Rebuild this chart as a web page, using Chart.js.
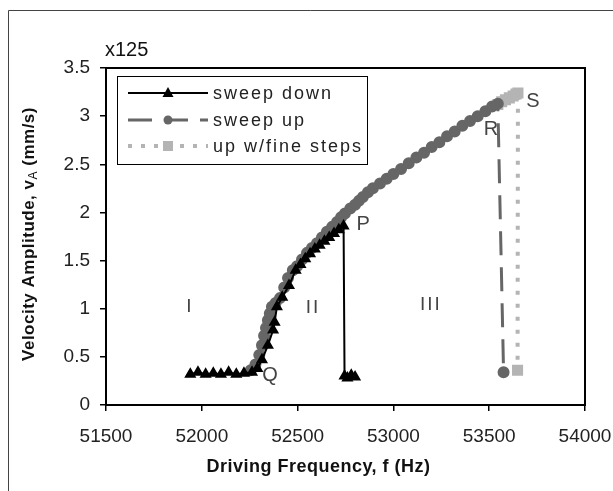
<!DOCTYPE html>
<html>
<head>
<meta charset="utf-8">
<script src="https://cdn.jsdelivr.net/npm/chart.js@4/dist/chart.umd.min.js"></script>
<style>
	html, body { margin: 0; padding: 0; background: #fff; }
	#wrap { width: 613px; height: 491px; position: relative; }
</style>
</head>
<body>
<div id="wrap"><canvas id="resonance"></canvas></div>
<script>
// sweep down (black triangles), taken from high to low frequency
const downFreq = [52800, 52780, 52760, 52745, 52740, 52715, 52690, 52665, 52640, 52615, 52590, 52565, 52540, 52515, 52490,
	52455, 52420, 52392, 52380, 52372, 52345, 52314, 52290, 52262, 52220, 52180, 52140, 52100, 52060, 52020, 51980, 51940];
const downAmp = [0.29, 0.31, 0.28, 0.30, 1.86, 1.82, 1.78, 1.74, 1.70, 1.66, 1.62, 1.57, 1.52, 1.46, 1.40,
	1.24, 1.12, 1.02, 0.86, 0.78, 0.62, 0.47, 0.38, 0.34, 0.33, 0.32, 0.34, 0.32, 0.33, 0.32, 0.34, 0.32];

// sweep up (grey circles)
const upFreq = [52255, 52280, 52300, 52314, 52325, 52335, 52345, 52355, 52366, 52385, 52408, 52430, 52450, 52475, 52497,
	52523, 52549, 52575, 52601, 52627, 52653, 52680, 52706, 52727, 52747, 52775, 52800, 52820, 52841, 52867, 52893,
	52930, 52965, 53000, 53040, 53080, 53120, 53160, 53200, 53240, 53280, 53320, 53360, 53400, 53440, 53480, 53515, 53545, 53575];
const upAmp = [0.36, 0.42, 0.52, 0.62, 0.72, 0.80, 0.88, 0.95, 1.02, 1.06, 1.11, 1.22, 1.32, 1.40, 1.44,
	1.51, 1.58, 1.63, 1.68, 1.74, 1.80, 1.85, 1.90, 1.95, 1.99, 2.04, 2.08, 2.12, 2.16, 2.21, 2.25,
	2.30, 2.35, 2.40, 2.45, 2.51, 2.57, 2.62, 2.68, 2.73, 2.79, 2.84, 2.90, 2.95, 3.00, 3.05, 3.10, 3.13, 0.34];

// up with fine steps (light grey squares)
const fineFreq = [53545, 53565, 53585, 53605, 53625, 53640, 53650, 53648];
const fineAmp = [3.12, 3.15, 3.17, 3.19, 3.21, 3.23, 3.24, 0.36];

const xTicks = [51500, 52000, 52500, 53000, 53500, 54000];
const yTicks = [0, 0.5, 1, 1.5, 2, 2.5, 3, 3.5];

const seriesNames = ["sweep down", "sweep up", "up w/fine steps"];
const pointNames = [
	{ text: "P", f: 52842, v: 1.87 },
	{ text: "Q", f: 52356, v: 0.31 },
	{ text: "R", f: 53509, v: 2.86 },
	{ text: "S", f: 53728, v: 3.15 },
];
const regionNames = [
	{ text: "I", f: 51938, v: 1.02 },
	{ text: "II", f: 52580, v: 1.01 },
	{ text: "III", f: 53196, v: 1.04 },
];

const FONT = "'Liberation Sans', Arial, sans-serif";

const toXY = (fs, vs) => fs.map((f, i) => ({ x: f, y: vs[i] }));

// рамка, легенда, подписи точек и осей
const decorPlugin = {
	id: "decor",
	afterDraw(chart) {
		const { ctx, chartArea: a, scales } = chart;
		const sx = scales.x, sy = scales.y;
		ctx.save();

		// outer frame of the chart
		ctx.strokeStyle = "#444";
		ctx.lineWidth = 1;
		ctx.beginPath();
		ctx.moveTo(8.5, 491);
		ctx.lineTo(8.5, 10.5);
		ctx.lineTo(613, 10.5);
		ctx.stroke();

		// plot frame
		ctx.strokeStyle = "#000";
		ctx.lineWidth = 2;
		ctx.strokeRect(a.left, a.top, a.right - a.left, a.bottom - a.top);

		// point labels
		ctx.fillStyle = "#444";
		ctx.font = "20px " + FONT;
		ctx.textAlign = "center";
		ctx.textBaseline = "middle";
		pointNames.forEach((p) => ctx.fillText(p.text, sx.getPixelForValue(p.f), sy.getPixelForValue(p.v)));
		ctx.font = "19px " + FONT;
		ctx.letterSpacing = "2px";
		regionNames.forEach((p) => ctx.fillText(p.text, sx.getPixelForValue(p.f), sy.getPixelForValue(p.v)));
		ctx.letterSpacing = "0px";

		// multiplier above axis
		ctx.fillStyle = "#111";
		ctx.font = "20px " + FONT;
		ctx.textAlign = "left";
		ctx.fillText("x125", 105, 50);

		// legend
		const lx = 117, ly = 76, lw = 250, lh = 88;
		ctx.fillStyle = "#fff";
		ctx.fillRect(lx, ly, lw, lh);
		ctx.strokeStyle = "#000";
		ctx.lineWidth = 1;
		ctx.strokeRect(lx + 0.5, ly + 0.5, lw, lh);
		const ds = chart.data.datasets;
		const rows = [93, 120, 146];
		rows.forEach((ry, i) => {
			const d = ds[i];
			ctx.strokeStyle = d.borderColor;
			ctx.lineWidth = d.borderWidth;
			ctx.setLineDash(d.borderDash || []);
			ctx.beginPath();
			ctx.moveTo(128, ry);
			ctx.lineTo(208, ry);
			ctx.stroke();
			ctx.setLineDash([]);
			ctx.fillStyle = d.pointBackgroundColor;
			drawMarker(ctx, d.pointStyle, 168, ry, d.pointRadius);
			ctx.fillStyle = "#222";
			ctx.font = "18px " + FONT;
			ctx.letterSpacing = "2px";
			ctx.textAlign = "left";
			ctx.fillText(seriesNames[i], 213, ry + 1);
			ctx.letterSpacing = "0px";
		});

		// axis titles
		ctx.fillStyle = "#111";
		ctx.font = "bold 18px " + FONT;
		ctx.textAlign = "center";
		ctx.letterSpacing = "0.5px";
		ctx.fillText("Driving Frequency, f (Hz)", (a.left + a.right) / 2 - 27, 467);

		ctx.translate(29, 234);
		ctx.rotate(-Math.PI / 2);
		const parts = ["Velocity Amplitude, v", "A", " (mm/s)"];
		ctx.font = "bold 17px " + FONT;
		const w0 = ctx.measureText(parts[0]).width;
		const w2 = ctx.measureText(parts[2]).width;
		ctx.font = "12px " + FONT;
		const w1 = ctx.measureText(parts[1]).width;
		let cx = -(w0 + w1 + w2) / 2;
		ctx.textAlign = "left";
		ctx.font = "bold 17px " + FONT;
		ctx.fillText(parts[0], cx, 0);
		cx += w0;
		ctx.font = "12px " + FONT;
		ctx.fillText(parts[1], cx, 5);
		cx += w1;
		ctx.font = "bold 17px " + FONT;
		ctx.fillText(parts[2], cx, 0);
		ctx.letterSpacing = "0px";

		ctx.restore();
	},
};

function drawMarker(ctx, style, x, y, r) {
	ctx.beginPath();
	if (style === "triangle") {
		ctx.moveTo(x, y - r * 1.2);
		ctx.lineTo(x + r * 1.1, y + r * 0.8);
		ctx.lineTo(x - r * 1.1, y + r * 0.8);
		ctx.closePath();
	} else if (style === "rect") {
		ctx.rect(x - r, y - r, r * 2, r * 2);
	} else {
		ctx.arc(x, y, r, 0, Math.PI * 2);
	}
	ctx.fill();
}

const data = {
	datasets: [
		{
			label: seriesNames[0],
			data: toXY(downFreq, downAmp),
			borderColor: "#000",
			backgroundColor: "#000",
			pointBackgroundColor: "#000",
			pointBorderColor: "#000",
			pointStyle: "triangle",
			pointRadius: 5,
			borderWidth: 2,
		},
		{
			label: seriesNames[1],
			data: toXY(upFreq, upAmp),
			borderColor: "#666",
			backgroundColor: "#666",
			pointBackgroundColor: "#666",
			pointBorderColor: "#666",
			pointStyle: "circle",
			pointRadius: 4.5,
			borderWidth: 3,
			borderDash: [24, 12],
		},
		{
			label: seriesNames[2],
			data: toXY(fineFreq, fineAmp),
			borderColor: "#b4b4b4",
			backgroundColor: "#b4b4b4",
			pointBackgroundColor: "#b4b4b4",
			pointBorderColor: "#b4b4b4",
			pointStyle: "rect",
			pointRadius: 5,
			borderWidth: 4,
			borderDash: [4, 9],
		},
	],
};

const tickFont = { family: FONT, size: 19 };

const config = {
	type: "line",
	data: data,
	plugins: [decorPlugin],
	options: {
		responsive: false,
		animation: false,
		events: [],
		layout: {
			padding: { left: 10, right: 0, top: 68, bottom: 10 },
		},
		plugins: {
			legend: { display: false },
			tooltip: { enabled: false },
		},
		scales: {
			x: {
				type: "linear",
				min: xTicks[0],
				max: xTicks[xTicks.length - 1],
				afterBuildTicks: (s) => { s.ticks = xTicks.map((v) => ({ value: v })); },
				afterFit: (s) => { s.height = 76; s.paddingRight = 28; },
				grid: { drawOnChartArea: false, tickLength: 6, color: "#000", lineWidth: 1.5 },
				border: { color: "#000", width: 2 },
				ticks: { font: tickFont, color: "#222", padding: 14, maxRotation: 0, callback: (v) => String(v) },
			},
			y: {
				type: "linear",
				min: yTicks[0],
				max: yTicks[yTicks.length - 1],
				afterBuildTicks: (s) => { s.ticks = yTicks.map((v) => ({ value: v })); },
				afterFit: (s) => { s.width = 96; },
				grid: { drawOnChartArea: false, tickLength: 6, color: "#000", lineWidth: 1.5 },
				border: { color: "#000", width: 2 },
				ticks: { font: tickFont, color: "#222", padding: 10, callback: (v) => String(v) },
			},
		},
	},
};

const canvas = document.getElementById("resonance");
canvas.width = 613;
canvas.height = 491;
const resonanceChart = new Chart(canvas, config);
</script>
</body>
</html>
